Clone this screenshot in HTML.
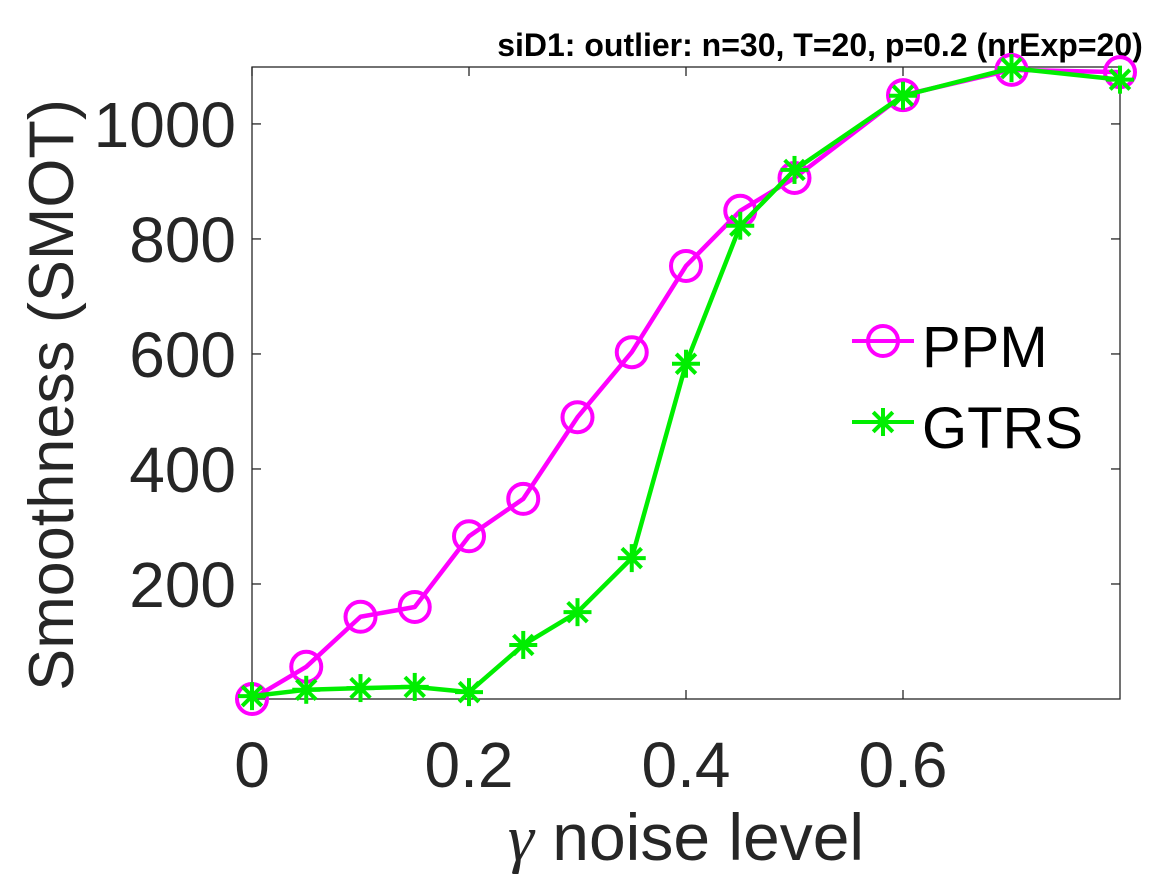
<!DOCTYPE html>
<html><head><meta charset="utf-8"><style>
body{margin:0;background:#fff;}
svg{display:block;font-family:"Liberation Sans",sans-serif;}
</style></head><body>
<svg id="chart" width="1167" height="875" viewBox="0 0 1167 875">
<text x="820" y="56" font-size="32" font-weight="bold" text-anchor="middle" fill="#000">siD1: outlier: n=30, T=20, p=0.2 (nrExp=20)</text>
<rect x="252" y="67" width="868" height="632" fill="none" stroke="#262626" stroke-width="1.3"/>
<g id="ticks"></g>
<g id="series"></g>
<text x="686" y="860" font-size="66" text-anchor="middle" fill="#262626"><tspan font-family="Liberation Serif" font-style="italic">γ</tspan> noise level</text>
<text transform="translate(73,395) rotate(-90)" font-size="63" text-anchor="middle" fill="#262626">Smoothness (SMOT)</text>
<g>
<line x1="852" y1="341" x2="914" y2="341" stroke="#ff00ff" stroke-width="4"/>
<circle cx="883" cy="341" r="15" fill="none" stroke="#ff00ff" stroke-width="4"/>
<text x="922" y="367" font-size="58" fill="#000">PPM</text>
<line x1="852" y1="422" x2="914" y2="422" stroke="#00ee00" stroke-width="4"/>
<g id="legstar"></g>
<text x="922" y="448" font-size="58" fill="#000">GTRS</text>
</g>
</svg>
<script>
const xVals=[0,0.05,0.1,0.15,0.2,0.25,0.3,0.35,0.4,0.45,0.5,0.6,0.7,0.8];
const ppm=[0,56,143,160,283,348,490,603,753,849,906,1050,1094,1090];
const gtrs=[5,16,19,21,12,94,151,245,583,823,920,1049,1097,1077];
const xTicks=[0,0.2,0.4,0.6];
const xTickLabels=["0","0.2","0.4","0.6"];
const yTicks=[200,400,600,800,1000];
const yTickLabels=["200","400","600","800","1000"];
const X0=252,X1=1120,Y0=699,Y1=67,XMAX=0.8,YMIN=0,YMAX=1099;
const sx=v=>X0+(v/XMAX)*(X1-X0);
const sy=v=>Y0-(v-YMIN)/(YMAX-YMIN)*(Y0-Y1);
const NS="http://www.w3.org/2000/svg";
function mk(t,a,p){const e=document.createElementNS(NS,t);for(const k in a)e.setAttribute(k,a[k]);p.appendChild(e);return e;}
const tg=document.getElementById('ticks');
xTicks.forEach((v,i)=>{const x=sx(v);
mk('line',{x1:x,y1:Y0,x2:x,y2:Y0-9,stroke:'#262626','stroke-width':1.3},tg);
mk('line',{x1:x,y1:Y1,x2:x,y2:Y1+9,stroke:'#262626','stroke-width':1.3},tg);
const t=mk('text',{x:x,y:787,'font-size':64,'text-anchor':'middle',fill:'#262626'},tg);


t.textContent=xTickLabels[i];});
yTicks.forEach((v,i)=>{const y=sy(v);
mk('line',{x1:X0,y1:y,x2:X0+9,y2:y,stroke:'#262626','stroke-width':1.3},tg);
mk('line',{x1:X1,y1:y,x2:X1-9,y2:y,stroke:'#262626','stroke-width':1.3},tg);
const t=mk('text',{x:236,y:y+23,'font-size':64,'text-anchor':'end',fill:'#262626'},tg);


t.textContent=yTickLabels[i];});
const sg=document.getElementById('series');
function star(cx,cy,col,p){const r=14;[[0,1],[1,0],[0.7,0.7],[0.7,-0.7]].forEach(d=>mk('line',{x1:cx-d[0]*r,y1:cy-d[1]*r,x2:cx+d[0]*r,y2:cy+d[1]*r,stroke:col,'stroke-width':4},p));}
function series(vals,col,name,marker){
const pl=mk('polyline',{points:vals.map((v,i)=>sx(xVals[i])+','+sy(v)).join(' '),fill:'none',stroke:col,'stroke-width':4.5,'stroke-linejoin':'round'},sg);


vals.forEach((v,i)=>{
if(marker==='o'){const c=mk('circle',{cx:sx(xVals[i]),cy:sy(v),r:15,fill:'none',stroke:col,'stroke-width':4},sg);

}
else{const g=mk('g',{},sg);


star(sx(xVals[i]),sy(v),col,g);}});}
series(ppm,'#ff00ff','ppm','o');
series(gtrs,'#00ee00','gtrs','*');
star(883,422,'#00ee00',document.getElementById('legstar'));
</script>
</body></html>
